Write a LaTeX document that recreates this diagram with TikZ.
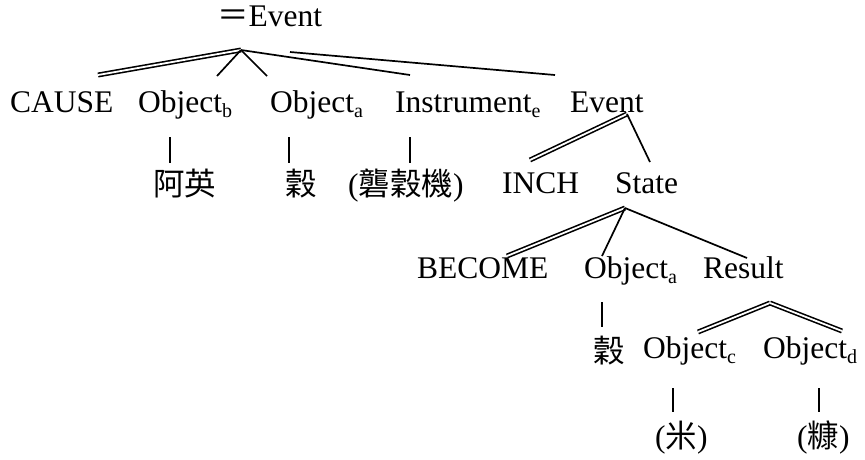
\documentclass[tikz,border=0pt]{standalone}
\usepackage{fontspec}
\setmainfont{Liberation Serif}
\newfontfamily\cjk{Noto Sans CJK TC}
\newcommand{\mysub}[1]{\raisebox{-0.17em}{\fontsize{20}{20}\selectfont #1}}
\tikzset{
  lbl/.style={anchor=base west, inner sep=0pt, font=\fontsize{31.5}{36}\selectfont},
  br/.style={line width=1.7pt},
  dbl/.style={double, line width=1.6pt, double distance=1.8pt},
}
\begin{document}
\begin{tikzpicture}[x=1pt,y=-1pt]
\useasboundingbox[fill=white] (0,0) rectangle (865,459);
% labels
\node[lbl] (top) at (217,26) {{\cjk ＝}Event};
\node[lbl] (cause) at (10,112) {CAUSE};
\node[lbl] (objb) at (138,112) {Object\mysub{b}};
\node[lbl] (obja) at (270,112) {Object\mysub{a}};
\node[lbl] (instr) at (395,112) {Instrument\mysub{e}};
\node[lbl] (event) at (570,112) {Event};
\node[lbl] (ayin) at (153,195) {\cjk 阿英};
\node[lbl] (gu) at (285,195) {\cjk 穀};
\node[lbl] (lgj) at (348,195) {(\cjk 礱穀機\rm)};
\node[lbl] (inch) at (502,193) {INCH};
\node[lbl] (state) at (615,193) {State};
\node[lbl] (become) at (417,278) {BECOME};
\node[lbl] (objaa) at (584,278) {Object\mysub{a}};
\node[lbl] (result) at (703,278) {Result};
\node[lbl] (gub) at (593,362) {\cjk 穀};
\node[lbl] (objc) at (643,358) {Object\mysub{c}};
\node[lbl] (objd) at (763,358) {Object\mysub{d}};
\node[lbl] (mi) at (655,447) {(\cjk 米\rm)};
\node[lbl] (kang) at (797,447) {(\cjk 糠\rm)};
% branch points
\coordinate (ap1) at (241,50);
\coordinate (c1) at (98,75);
\coordinate (c2) at (217,76);
\coordinate (c3) at (267,76);
\coordinate (c4) at (410,75);
\coordinate (c5a) at (290,52);
\coordinate (c5) at (555,75);
\coordinate (ap2) at (627,114);
\coordinate (d1) at (530,160);
\coordinate (d2) at (650,162);
\coordinate (ap3) at (625,208);
\coordinate (e1) at (507,256);
\coordinate (e2) at (602,256);
\coordinate (e3) at (747,258);
\coordinate (ap4) at (770,303);
\coordinate (f1) at (698,332);
\coordinate (f2) at (842,331);
% tick ends
\coordinate (t1a) at (170,137); \coordinate (t1b) at (170,163);
\coordinate (t2a) at (289,137); \coordinate (t2b) at (289,163);
\coordinate (t3a) at (410,137); \coordinate (t3b) at (410,163);
\coordinate (t4a) at (602,302); \coordinate (t4b) at (602,327);
\coordinate (t5a) at (673,388); \coordinate (t5b) at (673,412);
\coordinate (t6a) at (819,388); \coordinate (t6b) at (819,412);
% connectors
\draw[dbl] (ap1) -- (c1);
\draw[br] (ap1) -- (c2);
\draw[br] (ap1) -- (c3);
\draw[br] (ap1) -- (c4);
\draw[br] (c5a) -- (c5);
\draw[dbl] (ap2) -- (d1);
\draw[br] (ap2) -- (d2);
\draw[dbl] (ap3) -- (e1);
\draw[br] (ap3) -- (e2);
\draw[br] (ap3) -- (e3);
\draw[dbl] (ap4) -- (f1);
\draw[dbl] (ap4) -- (f2);
\draw[br] (t1a) -- (t1b);
\draw[br] (t2a) -- (t2b);
\draw[br] (t3a) -- (t3b);
\draw[br] (t4a) -- (t4b);
\draw[br] (t5a) -- (t5b);
\draw[br] (t6a) -- (t6b);
\end{tikzpicture}
\end{document}
